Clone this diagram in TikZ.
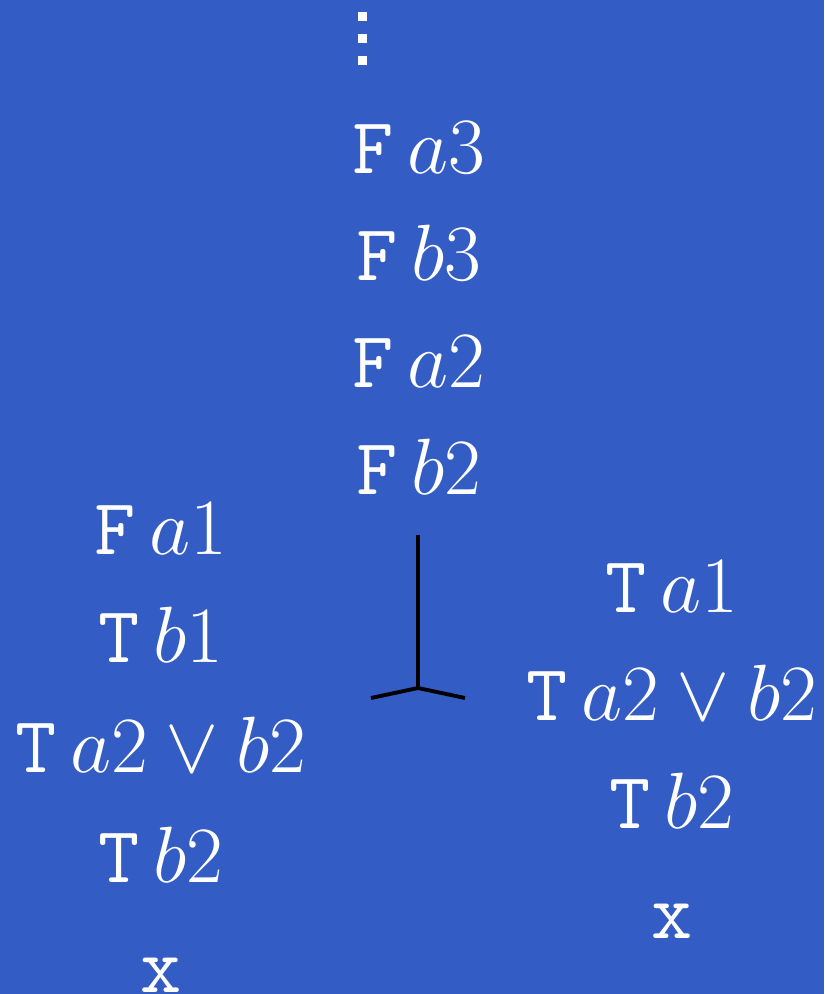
\documentclass[tikz,border=0pt]{standalone}
\usetikzlibrary{calc}
\definecolor{slideblue}{RGB}{51,92,196}

\begin{document}
\begin{tikzpicture}[x=0.01cm, y=-0.01cm,
    row/.style={text=white, anchor=base, inner sep=0pt, scale=1.095,
        font=\huge}]

    % 背景
    \fill[slideblue] (0,0) rectangle (824,994);
    \useasboundingbox (0,0) rectangle (824,994);

    % 竖省略号
    \foreach \y in {16.5, 38.5, 60.5}
        \fill[white] (358,\y-4.5) rectangle (367,\y+4.5);

    % 主干
    \node[row] (F_a3) at (419,174) {\texttt{F}\,$a3$};
    \node[row] (F_b3) at (419,281) {\texttt{F}\,$b3$};
    \node[row] (F_a2) at (419,387) {\texttt{F}\,$a2$};
    \node[row] (F_b2) at (419,494) {\texttt{F}\,$b2$};

    % 分叉
    \coordinate (fork_top) at (418,535);
    \coordinate (fork)     at (418,688);
    \coordinate (fork_L)   at (371,698);
    \coordinate (fork_R)   at (465,698);
    \draw[line width=1.1pt] (fork_top) -- (fork) -- (fork_L);
    \draw[line width=1.1pt] (fork) -- (fork_R);

    % 左分支
    \node[row] (L_a1)  at (161,554) {\texttt{F}\,$a1$};
    \node[row] (L_b1)  at (161,662) {\texttt{T}\,$b1$};
    \node[row] (L_or)  at (161,772) {\texttt{T}\,$a2 \vee b2$};
    \node[row] (L_b2)  at (161,882) {\texttt{T}\,$b2$};
    \node[row] (L_x)   at (161,992) {\texttt{x}};

    % 右分支
    \node[row] (R_a1)  at (672,612) {\texttt{T}\,$a1$};
    \node[row] (R_or)  at (672,720) {\texttt{T}\,$a2 \vee b2$};
    \node[row] (R_b2)  at (672,828) {\texttt{T}\,$b2$};
    \node[row] (R_x)   at (672,938) {\texttt{x}};

\end{tikzpicture}
\end{document}
